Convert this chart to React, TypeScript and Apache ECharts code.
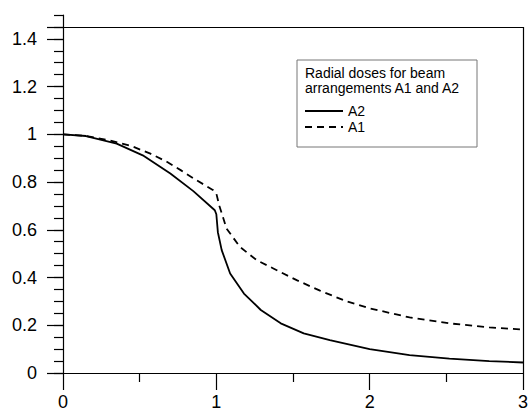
import React, { useEffect, useRef } from "react";
import * as echarts from "echarts";

const a2X = [0, 0.15, 0.35, 0.52, 0.7, 0.85, 0.99, 1.0, 1.01, 1.035, 1.09, 1.18, 1.29, 1.42, 1.57, 1.74, 2.0, 2.26, 2.52, 2.78, 3.0];
const a2Y = [1.0, 0.993, 0.961, 0.912, 0.836, 0.762, 0.682, 0.665, 0.59, 0.515, 0.417, 0.333, 0.264, 0.208, 0.166, 0.138, 0.1, 0.075, 0.06, 0.05, 0.044];

const a1X = [0, 0.15, 0.3, 0.45, 0.57, 0.68, 0.77, 0.87, 0.98, 1.0, 1.02, 1.067, 1.154, 1.263, 1.372, 1.524, 1.676, 1.85, 2.0, 2.26, 2.52, 2.78, 3.0];
const a1Y = [1.0, 0.993, 0.975, 0.95, 0.919, 0.884, 0.849, 0.808, 0.766, 0.752, 0.7, 0.605, 0.528, 0.473, 0.438, 0.389, 0.345, 0.3, 0.271, 0.233, 0.208, 0.191, 0.182];

const yMajorTicks = [0, 0.2, 0.4, 0.6, 0.8, 1.0, 1.2, 1.4, 1.45];
const frameTop = 1.45;
const xMax = 3;

const legendTitle = "Radial doses for beam\narrangements A1 and A2";
const seriesNames = ["A2", "A1"];

const FONT = "Liberation Sans, Arial, sans-serif";

export default function App() {
  const ref = useRef<HTMLDivElement>(null);
  useEffect(() => {
    if (!ref.current) return;
    document.body.style.margin = "0";
    const chart = echarts.init(ref.current, undefined, { renderer: "svg" });
    const zip = (xs: number[], ys: number[]) => xs.map((x, i) => [x, ys[i]]);
    chart.setOption({
      animation: false,
      backgroundColor: "#fff",
      textStyle: { fontFamily: FONT },
      grid: { left: 63, right: 5, top: 15, bottom: 45, containLabel: false, outerBoundsMode: "none" },
      xAxis: {
        type: "value",
        min: 0,
        max: xMax,
        interval: 1,
        axisLine: { show: true, lineStyle: { color: "#000", width: 1.2 } },
        axisTick: { show: true, inside: false, length: 17, lineStyle: { color: "#000", width: 1.2 } },
        minorTick: { show: true, splitNumber: 2, length: 9, lineStyle: { color: "#000", width: 1.2 } },
        axisLabel: { color: "#000", fontSize: 18, fontFamily: FONT, margin: 20, hideOverlap: false },
        splitLine: { show: false },
      },
      yAxis: [
        {
          type: "value",
          min: 0,
          max: 1.5,
          interval: 0.05,
          position: "left",
          axisLine: { show: true, lineStyle: { color: "#000", width: 1.2 } },
          axisTick: { show: true, inside: false, length: 9, lineStyle: { color: "#000", width: 1.2 } },
          axisLabel: {
            color: "#000",
            fontSize: 18,
            fontFamily: FONT,
            margin: 26,
            formatter: (v: number) => {
              const k = v / 0.2;
              if (Math.abs(k - Math.round(k)) < 1e-6 && v < 1.45) {
                return String(Math.round(v * 10) / 10);
              }
              return "";
            },
          },
          splitLine: { show: false },
        },
        {
          type: "value",
          min: 0,
          max: 1.5,
          interval: 0.05,
          position: "left",
          axisLine: { show: false },
          axisTick: {
            show: true,
            inside: false,
            length: 16,
            customValues: yMajorTicks,
            lineStyle: { color: "#000", width: 1.2 },
          },
          axisLabel: { show: false },
          splitLine: { show: false },
        },
      ],
      legend: {
        data: seriesNames,
        orient: "vertical",
        left: 304,
        top: 104,
        padding: 0,
        itemWidth: 38,
        itemHeight: 14,
        itemGap: 2,
        itemStyle: { color: "rgba(0,0,0,0)", borderColor: "rgba(0,0,0,0)", borderWidth: 0, opacity: 0 },
        textStyle: { color: "#000", fontSize: 14, fontFamily: FONT },
      },
      graphic: [
        {
          type: "rect",
          shape: { x: 297, y: 60, width: 180, height: 87 },
          style: { fill: "none", stroke: "#777", lineWidth: 1 },
          silent: true,
        },
        {
          type: "text",
          x: 305,
          y: 65,
          style: {
            text: legendTitle,
            font: `14px ${FONT}`,
            fill: "#000",
            lineHeight: 15,
            textVerticalAlign: "top",
          },
          silent: true,
        },
      ],
      series: [
        {
          name: seriesNames[0],
          type: "line",
          data: zip(a2X, a2Y),
          symbol: "circle",
          showSymbol: false,
          color: "#000",
          lineStyle: { color: "#000", width: 1.8, type: "solid" },
          markLine: {
            silent: true,
            symbol: ["none", "none"],
            label: { show: false },
            lineStyle: { color: "#000", width: 1.2, type: "solid" },
            data: [
              [{ coord: [0, frameTop] }, { coord: [xMax, frameTop] }],
              [{ coord: [xMax, frameTop] }, { coord: [xMax, 0] }],
            ],
          },
        },
        {
          name: seriesNames[1],
          type: "line",
          data: zip(a1X, a1Y),
          symbol: "circle",
          showSymbol: false,
          color: "#000",
          lineStyle: { color: "#000", width: 1.8, type: [7, 5] },
        },
      ],
    });
    return () => chart.dispose();
  }, []);
  return <div ref={ref} style={{ width: 528, height: 418, background: "#fff" }} />;
}
